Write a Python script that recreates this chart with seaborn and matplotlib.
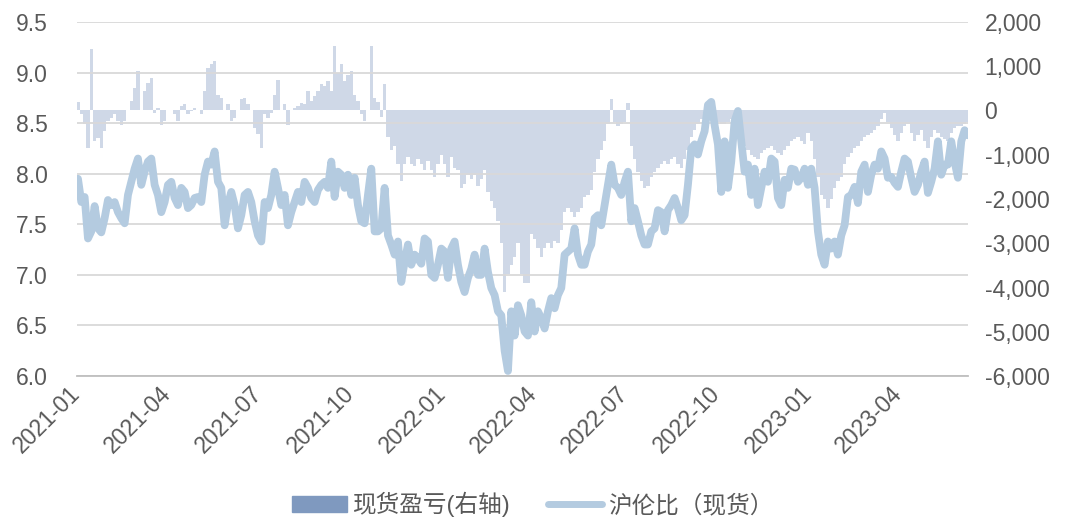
import pandas as pd
import matplotlib
matplotlib.use("Agg")
import matplotlib.pyplot as plt
import matplotlib.dates as mdates
from matplotlib.patches import Patch
from matplotlib.lines import Line2D
from matplotlib.ticker import FuncFormatter, MultipleLocator
import seaborn as sns

# --------------------------------------------------
# Data (roughly every 3-4 days)
# --------------------------------------------------

# 沪伦比（现货）, left axis
ratio = [
    7.95, 7.72, 7.77, 7.36, 7.43, 7.68, 7.46, 7.42, 7.56, 7.74,
    7.69, 7.72, 7.62, 7.56, 7.51, 7.79, 7.92, 8.05, 8.15, 7.89,
    8.02, 8.12, 8.15, 7.89, 7.79, 7.62, 7.72, 7.89, 7.92, 7.76,
    7.69, 7.86, 7.82, 7.66, 7.69, 7.76, 7.77, 7.72, 7.99, 8.12,
    8.09, 8.22, 7.92, 7.86, 7.49,
    7.70, 7.82, 7.69, 7.46, 7.59, 7.79, 7.82, 7.72, 7.53, 7.39,
    7.33, 7.72, 7.66, 7.79, 8.02, 7.86, 7.69, 7.79, 7.49, 7.62,
    7.72, 7.82, 7.72, 7.92, 7.86, 7.76, 7.72, 7.84, 7.89, 7.92,
    7.86, 8.12, 7.77, 8.02, 7.99, 7.86, 7.99, 7.79, 7.96, 7.69,
    7.53, 7.51, 7.79, 8.05, 7.43,
    7.43, 7.46, 7.86, 7.39, 7.30, 7.20, 7.33, 6.93, 7.13, 7.30,
    7.10, 7.20, 7.16, 7.11, 7.36, 7.33, 7.00, 6.97, 7.10, 7.26,
    7.23, 6.97, 7.26, 7.33, 7.10, 6.93, 6.83, 6.97, 7.06, 7.20,
    7.00, 7.00, 7.26, 7.03, 6.87, 6.80, 6.64, 6.60, 6.25, 6.05,
    6.64, 6.40, 6.70, 6.60, 6.44,
    6.40, 6.73, 6.44, 6.64, 6.57, 6.47, 6.64, 6.77, 6.67, 6.80,
    6.87, 7.20, 7.23, 7.26, 7.46, 7.20, 7.10, 7.10, 7.23, 7.30,
    7.56, 7.59, 7.49, 7.69, 7.89, 8.09, 7.89, 7.86, 7.79, 7.92,
    8.02, 7.53, 7.66, 7.53, 7.39, 7.30, 7.30, 7.43, 7.46, 7.64,
    7.62, 7.43, 7.64, 7.69, 7.76,
    7.66, 7.54, 7.59, 7.89, 8.25, 8.29, 8.19, 8.32, 8.42, 8.68,
    8.71, 8.48, 8.29, 7.82, 8.32, 7.86, 8.12, 8.52, 8.62, 8.32,
    8.02, 8.09, 7.79, 8.05, 7.69, 7.86, 8.02, 7.92, 8.15, 8.12,
    7.76, 7.69, 7.94, 7.86, 8.05, 8.04, 7.92, 7.96, 8.05, 7.89,
    8.05, 7.86, 7.43, 7.20, 7.10,
    7.33, 7.26, 7.33, 7.20, 7.39, 7.49, 7.77, 7.79, 7.87, 7.71,
    8.02, 8.09, 7.82, 7.99, 8.09, 8.05, 8.22, 8.15, 7.96, 7.97,
    7.91, 7.87, 8.02, 8.15, 8.12, 7.96, 7.82, 7.89, 8.02, 8.12,
    7.81, 7.92, 8.05, 8.32, 7.99, 8.09, 8.09, 8.32, 8.12, 7.96,
    8.32, 8.43, 8.38,
]

# 现货盈亏, right axis
pnl = [
    200, -90, -300, -850, 1400, -700, -620, -840, -470, -240,
    -170, -90, -240, -320, -240, 20, 210, 510, 890, 20,
    440, 620, 740, -50, 60, -320, -240, 10, 20, -90,
    -240, 100, 140, -90, -15, 60, 20, -90, 440, 960,
    1040, 1110, 360, 290, 20,
    140, -240, -170, 10, 250, 290, 140, 10, -390, -540,
    -840, -90, -170, -50, 360, 700, 20, 140, -320, 10,
    60, 100, 170, 140, 440, 210, 320, 440, 590, 550,
    660, 440, 1450, 850, 1040, 660, 810, 890, 360, 210,
    -90, -240, 10, 1450, 290,
    200, -150, 600, -600, -900, -800, -1200, -1600, -1200, -1050,
    -1200, -1250, -1100, -1200, -1350, -1150, -1350, -1500, -1200, -1000,
    -1200, -1500, -1050, -1300, -1350, -1750, -1650, -1450, -1550, -1450,
    -1700, -1550, -1350, -1850, -2050, -2200, -2500, -3000, -4100, -3700,
    -3500, -3300, -3000, -3700, -3900,
    -3900, -2800, -2900, -3100, -3300, -3100, -3000, -3100, -2950, -3000,
    -2700, -2300, -2200, -2300, -2400, -2300, -2200, -1950, -1900, -1800,
    -1400, -1100, -900, -700, -300, 250, -250, -350, -300, -250,
    180, -800, -1100, -1400, -1600, -1750, -1700, -1500, -1400, -1300,
    -1200, -1150, -1200, -1100, -1050,
    -1200, -1300, -1100, -900, -600, -450, -300, -200, -150, -100,
    -100, -150, -250, -300, -300, -250, -200, -200, -300, -600,
    -800, -900, -1000, -1050, -1100, -950, -900, -850, -800, -900,
    -950, -1000, -900, -800, -700, -650, -600, -700, -750, -500,
    -700, -1100, -1500, -1900, -2000,
    -2200, -2000, -1750, -1600, -1500, -1200, -1050, -950, -850, -800,
    -700, -600, -550, -500, -450, -350, -200, -50, -250, -400,
    -550, -700, -500, -350, -300, -500, -700, -550, -450, -700,
    -850, -600, -450, -500, -600, -650, -700, -500, -400, -350,
    -350, -300, -250,
]

dates = pd.date_range("2021-01-02", "2023-06-09", periods=len(ratio))
df = pd.DataFrame({"date": dates, "ratio": ratio, "pnl": pnl})

# --------------------------------------------------
# Plot
# --------------------------------------------------

sns.set_theme(style="white")
plt.rcParams["font.family"] = ["Liberation Sans", "Noto Sans CJK SC", "DejaVu Sans"]

text_color = "#595959"
line_color = "#b4cbe0"
bar_color = "#cfd8e7"
bar_legend_color = "#7f99bf"
tick_size = 16.5

fig = plt.figure(figsize=(10.66, 5.23), dpi=100)
ax = fig.add_axes([0.0722, 0.281, 0.8358, 0.677])
ax2 = ax.twinx()

ax2.bar(df["date"], df["pnl"], width=3.4, color=bar_color, linewidth=0)
sns.lineplot(data=df, x="date", y="ratio", ax=ax, color=line_color,
             lw=5.6, solid_joinstyle="round", solid_capstyle="round")

# line above the bars
ax.set_zorder(ax2.get_zorder() + 1)
ax.patch.set_visible(False)

ax.set_ylim(6.0, 9.5)
ax.yaxis.set_major_locator(MultipleLocator(0.5))
ax.yaxis.set_major_formatter(FuncFormatter(lambda v, p: f"{v:.1f}"))
ax.yaxis.grid(True, color="#d9d9d9", lw=1.3)
ax.set_axisbelow(True)

ax2.set_ylim(-6000, 2000)
ax2.yaxis.set_major_locator(MultipleLocator(1000))
ax2.yaxis.set_major_formatter(FuncFormatter(lambda v, p: f"{int(v):,}"))

ax.set_xlim(pd.Timestamp("2021-01-01"), pd.Timestamp("2023-06-09"))
ax.xaxis.set_major_locator(mdates.MonthLocator(bymonth=[1, 4, 7, 10]))
ax.xaxis.set_major_formatter(mdates.DateFormatter("%Y-%m"))

for a in (ax, ax2):
    for s in a.spines.values():
        s.set_visible(False)
ax.spines["bottom"].set_visible(True)
ax.spines["bottom"].set_color("#bfbfbf")
ax.spines["bottom"].set_linewidth(1.3)

ax.set_xlabel("")
ax.set_ylabel("")
ax.tick_params(axis="x", length=6, width=1.2, color="#bfbfbf", direction="out",
               labelsize=tick_size, labelcolor=text_color, pad=4)
ax.tick_params(axis="y", length=0, labelsize=tick_size, labelcolor=text_color, pad=21)
ax2.tick_params(axis="y", length=0, labelsize=tick_size, labelcolor=text_color, pad=12)
for lab in ax.get_xticklabels():
    lab.set_rotation(45)
    lab.set_ha("right")
    lab.set_va("center")
    lab.set_rotation_mode("anchor")

handles = [Patch(color=bar_legend_color),
           Line2D([], [], color=line_color, lw=5, solid_capstyle="round")]
labels = ["现货盈亏(右轴)", "沪伦比（现货）"]
fig.legend(handles, labels, loc="lower center", bbox_to_anchor=(0.5, -0.03),
           ncol=2, frameon=False, fontsize=17, labelcolor=text_color,
           handlelength=2.3, handletextpad=0.25, columnspacing=1.6)

fig.savefig("out.png", dpi=100)
